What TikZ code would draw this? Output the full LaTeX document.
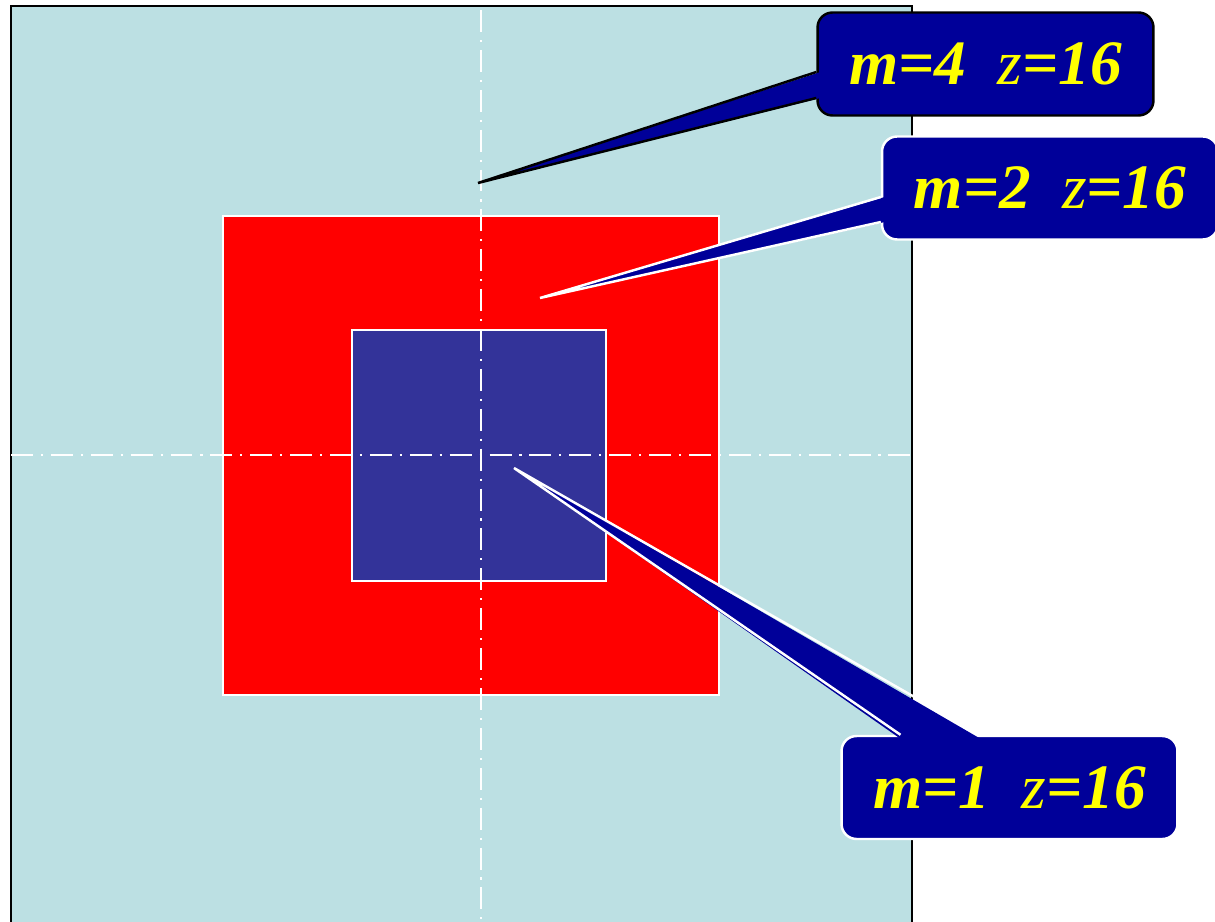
\documentclass[tikz,border=0pt]{standalone}
\usepackage{fontspec}
\setmainfont{Liberation Serif}
\usetikzlibrary{calc}
\definecolor{paleblue}{HTML}{BCE0E3}
\definecolor{corered}{HTML}{FF0000}
\definecolor{coreblue}{HTML}{333399}
\definecolor{tagblue}{HTML}{000099}
\definecolor{tagyellow}{HTML}{FFFF00}

\begin{document}
\begin{tikzpicture}[x=0.02cm,y=-0.02cm,
  zone/.style={draw=white,line width=1.4pt},
  axisline/.style={white,line width=1.4pt,dash pattern=on 12.5pt off 4.5pt on 1.2pt off 4.5pt},
  tag/.style={rounded corners=0.3cm,fill=tagblue,text=tagyellow,line width=1.4pt,
    minimum width=6.72cm,minimum height=2.06cm,inner sep=0pt,
    font=\fontsize{36}{40}\selectfont\bfseries\itshape},
  wedge/.style={fill=tagblue}]
\useasboundingbox (0,0) rectangle (1215,922);

% section
\fill[paleblue] (11,6) rectangle (912,940);
\draw[line width=1.4pt] (11,940) -- (11,6) -- (912,6) -- (912,940);
\draw[zone,fill=corered] (223,216) rectangle (719,695);
\draw[zone,fill=coreblue] (352,330) rectangle (606,581);
\draw[axisline] (481,10) -- (481,930);
\draw[axisline] (11,455) -- (914,455);

% labels
\node[tag,draw=black] (t4) at (985.5,64) {m=4\ \ {\mdseries z}=16};
\node[tag,draw=white] (t2) at (1050,188) {m=2\ \ {\mdseries z}=16};
\node[tag,draw=white] (t1) at (1009.5,787.5) {m=1\ \ {\mdseries z}=16};

\coordinate (tip4) at (478,183);
\coordinate (tip2) at (540,298);
\coordinate (tip1) at (514,468);

\fill[wedge] ($(t4.west)+(4,8)$) -- (tip4) -- ($(t4.west)+(4,34)$) -- cycle;
\draw[line width=1.4pt] ($(t4.west)+(0,8)$) -- (tip4) -- ($(t4.west)+(0,34)$);
\fill[wedge] ($(t2.west)+(4,9)$) -- (tip2) -- ($(t2.west)+(4,34)$) -- cycle;
\draw[white,line width=1.4pt] ($(t2.west)+(0,9)$) -- (tip2) -- ($(t2.west)+(0,34)$);
\fill[wedge] ($(t1.north)+(-109,4)$) -- (tip1) -- ($(t1.north)+(-29,4)$) -- cycle;
\draw[white,line width=1.4pt] ($(t1.north)+(-109,0)$) -- (tip1) -- ($(t1.north)+(-29,0)$);
\end{tikzpicture}
\end{document}
